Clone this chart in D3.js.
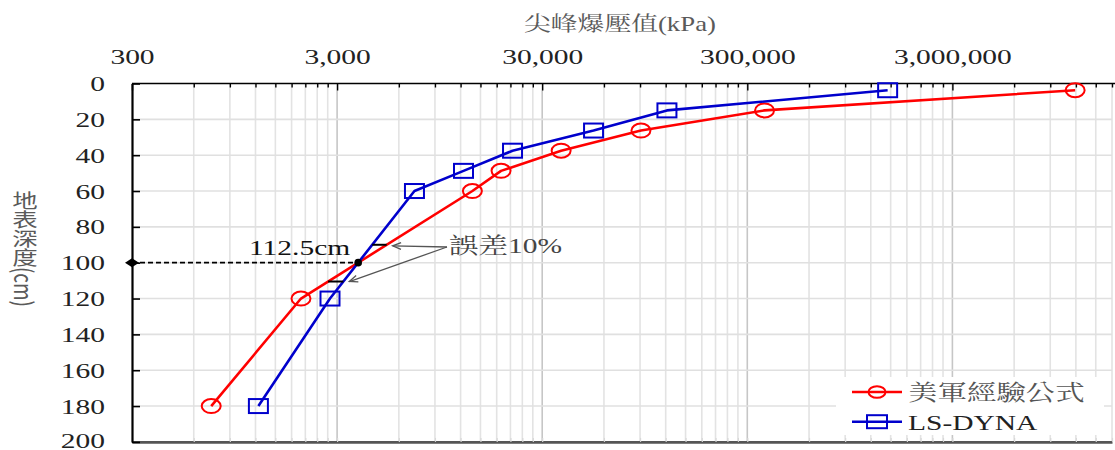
<!DOCTYPE html>
<html>
<head>
<meta charset="utf-8">
<script src="https://cdn.jsdelivr.net/npm/d3@7"></script>
<style>
  html, body { margin: 0; padding: 0; background: #fff; }
  svg { display: block; }
</style>
</head>
<body>
<svg id="chart" width="1115" height="450"></svg>
<script>
// Depth below ground surface (cm) for each measurement
const depths = [3.75, 15, 26.25, 37.5, 48.75, 60, 120, 180];
// Peak blast pressure (kPa): empirical US Army formula
const empiricalKPa = [11900000, 364000, 90900, 37100, 18900, 13700, 2000, 730];
// Peak blast pressure (kPa): LS-DYNA simulation
const lsDynaKPa = [1450000, 121700, 53400, 21500, 12400, 7150, 2770, 1240];
// Labelled decades on the pressure axis
const xTickLabels = [300, 3000, 30000, 300000, 3000000];
// Depth axis ticks
const yTicks = [0, 20, 40, 60, 80, 100, 120, 140, 160, 180, 200];
const seriesNames = ["美軍經驗公式", "LS-DYNA"];
const xTitle = "尖峰爆壓值(kPa)";
const yTitle = "地表深度(cm)";
const crossLabel = "112.5cm";
const errorLabel = "誤差10%";
// Depths at which the 10% gap between the curves is marked
const errorDepths = [90, 110.5];

(function draw() {
const W = 1115;
const SX = 1.34;                       // horizontal stretch applied to text
const serif = "'Liberation Serif','Times New Roman',serif";
const cjk = "'Liberation Serif','Noto Serif CJK TC','Noto Sans CJK TC',serif";
const RED = "#ff0000", BLUE = "#0000cc";

const svg = d3.select("#chart");
const x = d3.scaleLog().domain([300, 18000000]).range([132, 1112]);
const y = d3.scaleLinear().domain([0, 200]).range([83.5, 441.9]);
const [x0, x1] = x.range();
const [y0, y1] = y.range();

// minor positions: 300·k, 3000·k, ... within the domain
const minorTicks = [];
xTickLabels.forEach(b => { for (let k = 1; k <= 9; k++) if (b * k <= x.domain()[1] + 1) minorTicks.push(b * k); });
const isMajor = v => xTickLabels.includes(v);
const fmt = d3.format(",");

// ---- gridlines ----
const grid = svg.append("g");
grid.selectAll("line.v").data(minorTicks.filter(v => v > 300)).join("line")
  .attr("x1", d => x(d)).attr("x2", d => x(d))
  .attr("y1", y0).attr("y2", y1)
  .attr("stroke", d => isMajor(d) ? "#c6c6c6" : "#e3e3e3")
  .attr("stroke-width", 1.6);
grid.selectAll("line.h").data(yTicks.filter(v => v > 0 && v < 200)).join("line")
  .attr("x1", x0).attr("x2", x1)
  .attr("y1", d => y(d)).attr("y2", d => y(d))
  .attr("stroke", "#e0e0e0").attr("stroke-width", 1.6);

// ---- bottom axis (unlabelled) ----
const axBottom = svg.append("g").attr("transform", `translate(0,${y1})`)
  .call(d3.axisBottom(x).tickValues(minorTicks).tickSizeInner(-4).tickSizeOuter(0).tickFormat(""));
axBottom.select(".domain").attr("stroke", "#555").attr("stroke-width", 2.6);
axBottom.selectAll(".tick line").attr("stroke", "#d8d8d8").attr("stroke-width", 1.2);

// ---- top axis ----
const axTop = svg.append("g").attr("transform", `translate(0,${y0})`)
  .call(d3.axisTop(x).tickValues(minorTicks).tickSizeInner(-4).tickSizeOuter(0)
    .tickPadding(20).tickFormat(d => isMajor(d) ? fmt(d) : ""));
axTop.select(".domain").attr("stroke", "#000").attr("stroke-width", 1.6).attr("d", `M${x0},0H${W}`);
axTop.selectAll(".tick line").attr("stroke", "#000").attr("stroke-width", 1.4)
  .attr("y2", d => isMajor(d) ? 7 : 4);
axTop.selectAll(".tick text")
  .attr("font-family", serif).attr("font-size", 22).attr("fill", "#222")
  .attr("transform", `scale(${SX},1)`);

// ---- left axis ----
const axLeft = svg.append("g").attr("transform", `translate(${x0},0)`)
  .call(d3.axisLeft(y).tickValues(yTicks).tickSizeInner(-8).tickSizeOuter(0).tickPadding(0));
axLeft.select(".domain").attr("stroke", "#000").attr("stroke-width", 2.2);
axLeft.selectAll(".tick line").attr("stroke", "#000").attr("stroke-width", 1.6);
axLeft.selectAll(".tick text")
  .attr("font-family", serif).attr("font-size", 22).attr("fill", "#222")
  .attr("x", -27 / SX).attr("dy", d => d === 200 ? "0.26em" : "0.32em")
  .attr("transform", `scale(${SX},1)`);

// ---- axis titles ----
svg.append("text").text(xTitle)
  .attr("x", 620).attr("y", 31).attr("text-anchor", "middle")
  .attr("font-family", cjk).attr("font-size", 20).attr("fill", "#5a5a5a")
  .attr("transform", `translate(620,0) scale(${SX},1) translate(-620,0)`);
svg.append("text").text(yTitle)
  .attr("x", 25).attr("y", 249).attr("text-anchor", "middle")
  .style("writing-mode", "vertical-rl")
  .attr("font-family", "'Noto Sans CJK TC',sans-serif").attr("font-size", 19).attr("fill", "#5a5a5a")
  .attr("transform", `translate(25,0) scale(${SX},1) translate(-25,0)`);

// ---- series ----
const lg = Math.log10;
const series = [
  { name: seriesNames[0], values: empiricalKPa, color: RED, shape: "circle" },
  { name: seriesNames[1], values: lsDynaKPa, color: BLUE, shape: "square" }
];
const line = d3.line().x(d => x(d[0])).y(d => y(d[1]));
series.forEach(s => {
  const pts = s.values.map((v, i) => [v, depths[i]]);
  const g = svg.append("g");
  g.append("path").attr("d", line(pts)).attr("fill", "none")
    .attr("stroke", s.color).attr("stroke-width", 2.6).attr("stroke-linejoin", "round");
  if (s.shape === "circle") {
    g.selectAll("ellipse").data(pts).join("ellipse")
      .attr("cx", d => x(d[0])).attr("cy", d => y(d[1]))
      .attr("rx", 9.5).attr("ry", 7)
      .attr("fill", "none").attr("stroke", s.color).attr("stroke-width", 2);
  } else {
    g.selectAll("rect").data(pts).join("rect")
      .attr("x", d => x(d[0]) - 9.5).attr("y", d => y(d[1]) - 7)
      .attr("width", 19).attr("height", 14)
      .attr("fill", "none").attr("stroke", s.color).attr("stroke-width", 2);
  }
});

// pressure on a series at a given depth (straight segments in log-x / linear-y)
function xAt(values, depth) {
  for (let i = 0; i < depths.length - 1; i++) {
    if (depth >= depths[i] && depth <= depths[i + 1]) {
      const t = (depth - depths[i]) / (depths[i + 1] - depths[i]);
      return Math.pow(10, lg(values[i]) + t * (lg(values[i + 1]) - lg(values[i])));
    }
  }
  return NaN;
}

// crossing point of the two curves
let cross = null;
for (let i = 0; i < depths.length - 1 && !cross; i++) {
  const a = lg(empiricalKPa[i]) - lg(lsDynaKPa[i]);
  const b = lg(empiricalKPa[i + 1]) - lg(lsDynaKPa[i + 1]);
  if (a * b <= 0 && a !== b) {
    const t = a / (a - b);
    const d = depths[i] + t * (depths[i + 1] - depths[i]);
    cross = { depth: d, kPa: xAt(empiricalKPa, d) };
  }
}

const ann = svg.append("g");
const cx = x(cross.kPa), cy = y(cross.depth);
ann.append("line").attr("x1", x0).attr("x2", cx).attr("y1", cy).attr("y2", cy)
  .attr("stroke", "#000").attr("stroke-width", 1.6).attr("stroke-dasharray", "5,3");
ann.append("path").attr("d", `M${x0 - 7},${cy}L${x0},${cy - 4.5}L${x0 + 7},${cy}L${x0},${cy + 4.5}Z`)
  .attr("fill", "#000");
ann.append("circle").attr("cx", cx).attr("cy", cy).attr("r", 3.8).attr("fill", "#000");
const lx = cx - 8;
ann.append("text").text(crossLabel)
  .attr("x", lx).attr("y", cy - 8).attr("text-anchor", "end")
  .attr("font-family", serif).attr("font-size", 22).attr("fill", "#111")
  .attr("transform", `translate(${lx},0) scale(${SX},1) translate(${-lx},0)`);

// short bars marking the 10% gap
const ends = errorDepths.map(d => {
  const xa = x(xAt(lsDynaKPa, d)), xb = x(xAt(empiricalKPa, d));
  return { y: y(d), xl: Math.min(xa, xb), xr: Math.max(xa, xb) };
});
ann.selectAll("line.gap").data(ends).join("line")
  .attr("x1", d => d.xl).attr("x2", d => d.xr)
  .attr("y1", d => d.y).attr("y2", d => d.y)
  .attr("stroke", "#000").attr("stroke-width", 2);

// callout arrows
const ax = 447, ay = 247;
ends.forEach(e => {
  const tx = e.xr + 6, ty = e.y + (e.y > cy ? 0 : 1);
  const ang = Math.atan2(ay - ty, ax - tx);
  const hl = 9, hw = 0.38;
  ann.append("line").attr("x1", ax).attr("y1", ay).attr("x2", tx).attr("y2", ty)
    .attr("stroke", "#555").attr("stroke-width", 1.3);
  ann.append("path")
    .attr("d", `M${tx + hl * Math.cos(ang + hw)},${ty + hl * Math.sin(ang + hw)}L${tx},${ty}L${tx + hl * Math.cos(ang - hw)},${ty + hl * Math.sin(ang - hw)}`)
    .attr("fill", "none").attr("stroke", "#555").attr("stroke-width", 1.3);
});
ann.append("text").text(errorLabel)
  .attr("x", 449).attr("y", 253)
  .attr("font-family", cjk).attr("font-size", 22).attr("fill", "#444")
  .attr("transform", `translate(449,0) scale(${SX},1) translate(-449,0)`);

// ---- legend ----
const legend = svg.append("g");
legend.append("rect").attr("x", 836).attr("y", 377).attr("width", 268).attr("height", 58).attr("fill", "#fff");
series.forEach((s, i) => {
  const ly = 392 + i * 29.7;
  const g = legend.append("g");
  g.append("line").attr("x1", 852).attr("x2", 902).attr("y1", ly).attr("y2", ly)
    .attr("stroke", s.color).attr("stroke-width", 2.6);
  if (s.shape === "circle") {
    g.append("ellipse").attr("cx", 877).attr("cy", ly).attr("rx", 8.5).attr("ry", 5.8)
      .attr("fill", "none").attr("stroke", s.color).attr("stroke-width", 2);
  } else {
    g.append("rect").attr("x", 867).attr("y", ly - 6.5).attr("width", 20).attr("height", 13)
      .attr("fill", "none").attr("stroke", s.color).attr("stroke-width", 2);
  }
  g.append("text").text(s.name)
    .attr("x", 908).attr("y", ly + 8)
    .attr("font-family", cjk).attr("font-size", 22).attr("fill", i === 0 ? "#555" : "#222")
    .attr("transform", `translate(908,0) scale(${SX},1) translate(-908,0)`);
});
})();
</script>
</body>
</html>
